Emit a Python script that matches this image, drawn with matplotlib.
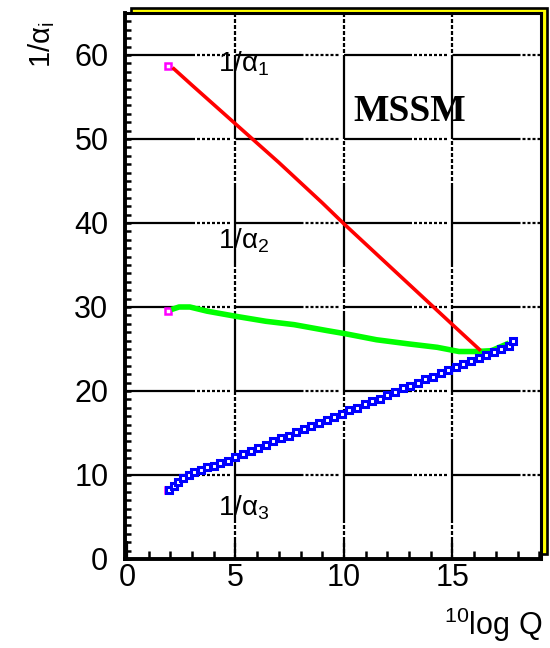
import matplotlib
matplotlib.use("Agg")
import matplotlib.pyplot as plt
from matplotlib.patches import Rectangle
from matplotlib.ticker import MultipleLocator, FixedLocator

plt.rcParams['font.family'] = ['Liberation Sans', 'DejaVu Sans']
plt.rcParams['mathtext.fontset'] = 'custom'
plt.rcParams['mathtext.rm'] = 'Liberation Sans'
plt.rcParams['mathtext.it'] = 'Liberation Sans:italic'
plt.rcParams['mathtext.bf'] = 'Liberation Sans:bold'
plt.rcParams['lines.scale_dashes'] = False

# ---- data: inverse couplings vs log10(Q/GeV) ----
start_x = [1.9, 1.9, 1.9]
start_y = [58.75, 29.5, 8.2]

a1_x = [2.1, 3.0, 4.0, 5.0, 6.0, 7.0, 8.0, 9.0, 10.0, 11.0, 12.0, 13.0, 14.0, 15.0, 16.3]
a1_y = [58.5, 56.4, 54.1, 51.8, 49.5, 47.2, 44.8, 42.4, 39.9, 37.5, 35.1, 32.7, 30.3, 27.9, 24.8]

a2_x = [2.05, 2.4, 2.9, 3.7, 5.0, 6.4, 7.7, 9.2, 10.1, 11.5, 13.0, 14.3, 15.3, 16.1, 16.8, 17.6]
a2_y = [29.7, 30.0, 30.0, 29.5, 28.9, 28.3, 27.9, 27.2, 26.8, 26.1, 25.6, 25.2, 24.7, 24.7, 24.8, 25.7]

a3_x = [1.95, 2.15, 2.35, 2.6, 2.85, 3.1, 3.4, 3.7, 4.0, 4.3, 4.65, 5.0, 5.35, 5.7,
        6.05, 6.4, 6.75, 7.1, 7.45, 7.8, 8.15, 8.5, 8.85, 9.2, 9.55, 9.9, 10.25,
        10.6, 10.95, 11.3, 11.65, 12.0, 12.35, 12.7, 13.05, 13.4, 13.75, 14.1,
        14.45, 14.8, 15.15, 15.5, 15.85, 16.2, 16.55, 16.9, 17.25, 17.6, 17.8]
a3_y = [8.2, 8.7, 9.2, 9.6, 10.0, 10.3, 10.6, 10.9, 11.1, 11.4, 11.7, 12.1, 12.5, 12.9,
        13.2, 13.6, 14.0, 14.4, 14.7, 15.1, 15.5, 15.8, 16.2, 16.6, 16.9, 17.3, 17.7,
        18.0, 18.4, 18.8, 19.1, 19.5, 19.9, 20.3, 20.6, 21.0, 21.4, 21.7,
        22.1, 22.5, 22.8, 23.2, 23.6, 23.9, 24.3, 24.7, 25.0, 25.4, 25.9]

x_ticks = [0, 5, 10, 15]
x_ticklabels = ['0', '5', '10', '15']
y_ticks = [0, 10, 20, 30, 40, 50, 60]
y_ticklabels = ['0', '10', '20', '30', '40', '50', '60']
grid_x = [5, 10, 15]
grid_y = [10, 20, 30, 40, 50, 60]

curve_labels = [r'$\mathregular{1/\alpha_1}$', r'$\mathregular{1/\alpha_2}$', r'$\mathregular{1/\alpha_3}$']
curve_label_x = [4.2, 4.2, 4.2]
curve_label_y = [58.0, 37.0, 5.2]

W, H = 550, 648
fig = plt.figure(figsize=(W / 100, H / 100), dpi=100)
fig.patch.set_facecolor('white')

ax_l, ax_r, ax_t, ax_b = 125, 541, 13, 559
ax = fig.add_axes([ax_l / W, (H - ax_b) / H, (ax_r - ax_l) / W, (ax_b - ax_t) / H])
ax.set_facecolor('white')

# yellow shadow frame behind the plot box
shadow = Rectangle(((ax_l + 6) / W, (H - ax_b + 5) / H), (ax_r - ax_l) / W, (ax_b - ax_t) / H,
                   transform=fig.transFigure, facecolor='#ffff00', edgecolor='black',
                   linewidth=1.9, zorder=-5)
fig.patches.append(shadow)

ax.set_xlim(-0.09, 19.08)
ax.set_ylim(0, 65)

# grid lines: long solid stretch followed by a run of dots
px = 0.72
h_dash = [v * px for v in [68, 2, 3, 2, 3, 2, 3, 2, 3, 2, 3, 2, 3, 2, 3, 5.5]]
v_dash = [v * px for v in [84, 2, 4, 2, 4, 2, 4, 2, 4, 2, 4, 2, 4, 2, 4, 2]]
for gy in grid_y:
    ax.plot([0, 19.08], [gy, gy], color='black', lw=1.6,
            linestyle=(0, h_dash), solid_capstyle='butt', dash_capstyle='butt', zorder=1)
for gx in grid_x:
    ax.plot([gx, gx], [0, 65], color='black', lw=1.6,
            linestyle=(92 * px, v_dash), solid_capstyle='butt', dash_capstyle='butt', zorder=1)

# starting values
ax.plot(start_x, start_y, linestyle='none', marker='s', ms=5, mfc='none',
        mec='#ff00ff', mew=1.8, zorder=2)

ax.plot(a2_x, a2_y, color='#00ff00', lw=4, solid_capstyle='butt', zorder=3)
ax.plot(a1_x, a1_y, color='#ff0000', lw=2.6, solid_capstyle='butt', zorder=4)
ax.plot(a3_x, a3_y, color='#0000ff', lw=1.5, marker='s', ms=4.8, mfc='white',
        mec='#0000ff', mew=2.2, zorder=5)

for lab, lx, ly in zip(curve_labels, curve_label_x, curve_label_y):
    ax.text(lx, ly, lab, fontsize=20, ha='left', va='baseline', color='black', zorder=6)

ax.text(13.04, 53.3, 'MSSM', fontsize=27, fontweight='bold', family='Liberation Serif',
        ha='center', va='center', color='black', zorder=6)

# frame and ticks
for side in ['left', 'bottom']:
    ax.spines[side].set_linewidth(2.8)
for side in ['top', 'right']:
    ax.spines[side].set_linewidth(2.2)
for s in ax.spines.values():
    s.set_color('black')
    s.set_zorder(7)

ax.xaxis.set_major_locator(FixedLocator(x_ticks))
ax.set_xticklabels(x_ticklabels)
ax.yaxis.set_major_locator(FixedLocator(y_ticks))
ax.set_yticklabels(y_ticklabels)
ax.xaxis.set_minor_locator(MultipleLocator(1))
ax.yaxis.set_minor_locator(MultipleLocator(1))
ax.tick_params(axis='x', which='major', direction='in', length=13, width=1.6,
               labelsize=22, pad=3, top=False)
ax.tick_params(axis='x', which='minor', direction='in', length=6, width=1.8, top=False)
ax.tick_params(axis='y', which='major', direction='in', length=4.5, width=1.8,
               labelsize=22, pad=12, right=False)
ax.tick_params(axis='y', which='minor', direction='in', length=4.5, width=1.8, right=False)

fig.text(42 / W, 1 - 45 / H, r'$\mathregular{1/\alpha_i}$', rotation=90, fontsize=21,
         ha='center', va='center')
fig.text(542 / W, 1 - 635 / H, r'$\mathregular{{}^{10}log\ Q}$', fontsize=22,
         ha='right', va='baseline')

fig.savefig('out.png', dpi=100)
